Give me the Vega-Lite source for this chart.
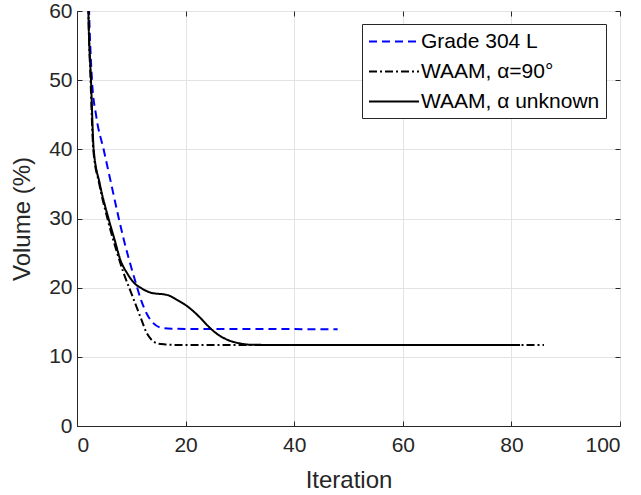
{
  "$schema": "https://vega.github.io/schema/vega-lite/v6.json",
  "width": 543,
  "height": 415,
  "autosize": "none",
  "padding": {"left": 77, "top": 11, "right": 21, "bottom": 69},
  "background": "white",
  "config": {
    "font": "Liberation Sans",
    "view": {"stroke": "#262626", "strokeWidth": 1},
    "axis": {
      "labelFont": "Liberation Sans",
      "titleFont": "Liberation Sans",
      "labelFontSize": 21,
      "titleFontSize": 24,
      "titleFontWeight": "normal",
      "labelColor": "#262626",
      "titleColor": "#262626",
      "domainColor": "#262626",
      "tickColor": "#262626",
      "gridColor": "#e3e3e3",
      "tickSize": -5
    }
  },
  "data": {
    "values": [
      {"s": "Grade 304 L", "x": 1.9, "y": 70},
      {"s": "Grade 304 L", "x": 2.3, "y": 58},
      {"s": "Grade 304 L", "x": 2.76, "y": 50},
      {"s": "Grade 304 L", "x": 3.56, "y": 44.7},
      {"s": "Grade 304 L", "x": 4.9, "y": 40},
      {"s": "Grade 304 L", "x": 6.3, "y": 35},
      {"s": "Grade 304 L", "x": 7.7, "y": 30},
      {"s": "Grade 304 L", "x": 8.6, "y": 27},
      {"s": "Grade 304 L", "x": 9.5, "y": 24.3},
      {"s": "Grade 304 L", "x": 10.6, "y": 21.3},
      {"s": "Grade 304 L", "x": 11.8, "y": 18.2},
      {"s": "Grade 304 L", "x": 12.8, "y": 16.3},
      {"s": "Grade 304 L", "x": 14.0, "y": 14.9},
      {"s": "Grade 304 L", "x": 15.5, "y": 14.2},
      {"s": "Grade 304 L", "x": 17.4, "y": 14.05},
      {"s": "Grade 304 L", "x": 48.0, "y": 14.0},
      {"s": "WAAM, α=90°", "x": 1.9, "y": 70},
      {"s": "WAAM, α=90°", "x": 2.1, "y": 60},
      {"s": "WAAM, α=90°", "x": 2.5, "y": 50},
      {"s": "WAAM, α=90°", "x": 3.0, "y": 40},
      {"s": "WAAM, α=90°", "x": 4.1, "y": 35},
      {"s": "WAAM, α=90°", "x": 5.6, "y": 30},
      {"s": "WAAM, α=90°", "x": 7.4, "y": 25},
      {"s": "WAAM, α=90°", "x": 8.5, "y": 22.3},
      {"s": "WAAM, α=90°", "x": 10.1, "y": 19.0},
      {"s": "WAAM, α=90°", "x": 11.9, "y": 15.3},
      {"s": "WAAM, α=90°", "x": 12.8, "y": 13.5},
      {"s": "WAAM, α=90°", "x": 13.8, "y": 12.4},
      {"s": "WAAM, α=90°", "x": 15.0, "y": 11.9},
      {"s": "WAAM, α=90°", "x": 16.2, "y": 11.8},
      {"s": "WAAM, α=90°", "x": 20.0, "y": 11.7},
      {"s": "WAAM, α=90°", "x": 86.0, "y": 11.7},
      {"s": "WAAM, α unknown", "x": 1.9, "y": 70},
      {"s": "WAAM, α unknown", "x": 2.1, "y": 60},
      {"s": "WAAM, α unknown", "x": 2.58, "y": 50},
      {"s": "WAAM, α unknown", "x": 3.07, "y": 40},
      {"s": "WAAM, α unknown", "x": 4.2, "y": 35},
      {"s": "WAAM, α unknown", "x": 5.8, "y": 30},
      {"s": "WAAM, α unknown", "x": 6.9, "y": 27},
      {"s": "WAAM, α unknown", "x": 8.0, "y": 24},
      {"s": "WAAM, α unknown", "x": 9.3, "y": 22},
      {"s": "WAAM, α unknown", "x": 10.5, "y": 20.7},
      {"s": "WAAM, α unknown", "x": 11.9, "y": 19.9},
      {"s": "WAAM, α unknown", "x": 13.5, "y": 19.3},
      {"s": "WAAM, α unknown", "x": 16.8, "y": 18.9},
      {"s": "WAAM, α unknown", "x": 18.5, "y": 18.2},
      {"s": "WAAM, α unknown", "x": 20.5, "y": 17.2},
      {"s": "WAAM, α unknown", "x": 22.5, "y": 15.8},
      {"s": "WAAM, α unknown", "x": 24.2, "y": 14.4},
      {"s": "WAAM, α unknown", "x": 26.0, "y": 13.2},
      {"s": "WAAM, α unknown", "x": 27.9, "y": 12.4},
      {"s": "WAAM, α unknown", "x": 30.0, "y": 11.95},
      {"s": "WAAM, α unknown", "x": 32.0, "y": 11.75},
      {"s": "WAAM, α unknown", "x": 40.0, "y": 11.7},
      {"s": "WAAM, α unknown", "x": 81.6, "y": 11.7}
    ]
  },
  "layer": [
    {
      "mark": {"type": "line", "interpolate": "monotone", "clip": true, "strokeWidth": 2},
      "encoding": {
        "x": {"field": "x", "type": "quantitative", "scale": {"domain": [0, 100], "nice": false},
              "axis": {"title": "Iteration", "values": [0, 20, 40, 60, 80, 100], "labelPadding": 13, "titlePadding": 13}},
        "y": {"field": "y", "type": "quantitative", "scale": {"domain": [0, 60], "nice": false},
              "axis": {"title": "Volume (%)", "values": [0, 10, 20, 30, 40, 50, 60], "labelPadding": 10, "titlePadding": 14}},
        "color": {"field": "s", "type": "nominal",
                  "scale": {"domain": ["Grade 304 L", "WAAM, α=90°", "WAAM, α unknown"], "range": ["#0000ff", "#000000", "#000000"]},
                  "legend": {"title": null, "orient": "none", "legendX": 285, "legendY": 13,
                             "symbolType": "M -1 0 L 3.76 0", "symbolSize": 441, "symbolStrokeWidth": 2,
                             "labelFontSize": 21, "labelColor": "#000000", "labelFont": "Liberation Sans", "labelLimit": 400,
                             "strokeColor": "#262626", "fillColor": "white", "padding": 6, "rowPadding": 8, "labelOffset": 30}},
        "strokeDash": {"field": "s", "type": "nominal",
                       "scale": {"domain": ["Grade 304 L", "WAAM, α=90°", "WAAM, α unknown"], "range": [[8, 5], [8, 3, 2, 3], [1, 0]]},
                       "legend": null},
        "order": {"field": "x", "type": "quantitative"}
      }
    },
    {
      "mark": {"type": "point", "opacity": 0},
      "encoding": {
        "x": {"field": "x", "type": "quantitative",
              "axis": {"orient": "top", "labels": false, "title": null, "grid": false, "domain": false, "values": [0, 20, 40, 60, 80, 100]}},
        "y": {"field": "y", "type": "quantitative",
              "axis": {"orient": "right", "labels": false, "title": null, "grid": false, "domain": false, "values": [0, 10, 20, 30, 40, 50, 60]}}
      }
    }
  ],
  "resolve": {"axis": {"x": "independent", "y": "independent"}}
}
